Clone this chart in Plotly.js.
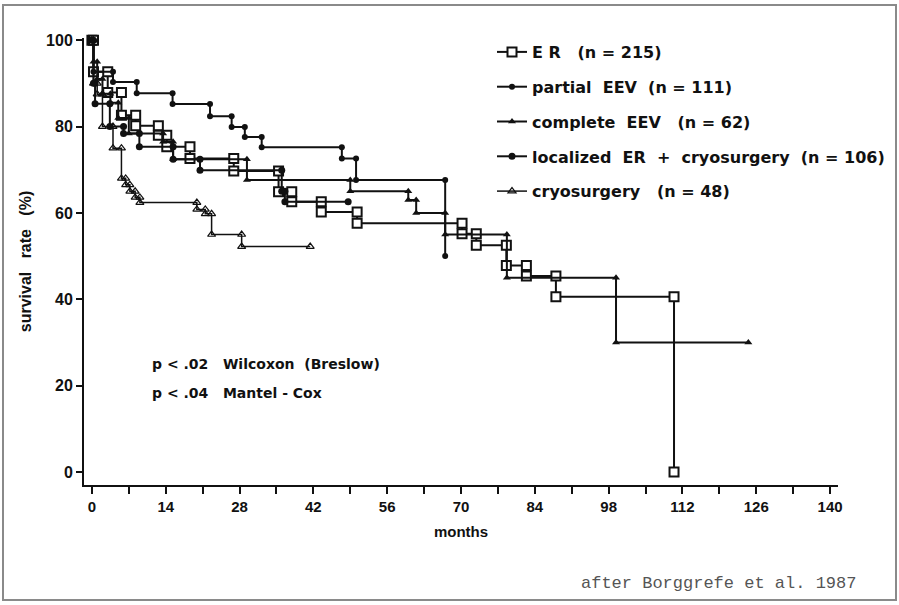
<!DOCTYPE html>
<html>
<head>
<meta charset="utf-8">
<script src="https://cdn.plot.ly/plotly-3.0.1.min.js"></script>
<style>html,body{margin:0;padding:0;background:#fff;}#chart{width:899px;height:605px;}</style>
</head>
<body>
<div id="chart"></div>
<script>
// Kaplan-Meier event times (months) and survival (%) after each event
const erT = [0, 0.3, 3.0, 5.6, 8.3, 12.6, 14.2, 18.6, 26.9, 35.4, 37.9, 43.5, 50.3, 70.2, 72.9, 78.6, 82.4, 88.0, 110.4];
const erS = [100, 92.7, 87.9, 82.6, 80.2, 78.0, 75.3, 72.6, 69.7, 64.9, 62.6, 60.2, 57.6, 55.2, 52.5, 47.8, 45.4, 40.6, 0];

const peT = [0, 0.3, 4.0, 8.5, 15.3, 22.4, 26.5, 29.0, 32.2, 47.4, 50.1, 67.0];
const peS = [100, 92.7, 90.3, 87.7, 85.2, 82.4, 79.9, 77.6, 75.2, 72.6, 67.6, 50.0];

const ceT = [0, 0.3, 1.0, 2.0, 3.5, 5.0, 7.0, 13.5, 15.4, 29.4, 49.0, 60.0, 61.5, 67.0, 78.7, 99.4, 124.5];
const ceS = [100, 95.0, 91.0, 87.6, 85.5, 82.0, 78.4, 76.5, 72.4, 67.6, 65.0, 63.0, 60.0, 55.0, 45.0, 30.0, 30.0];

const loT = [0, 0.3, 0.6, 3.4, 6.0, 9.0, 15.4, 20.5, 36.0, 36.6, 48.6];
const loS = [100, 90.0, 85.3, 80.0, 78.4, 75.3, 72.4, 69.9, 65.0, 62.6, 62.6];

const crT = [0, 0.3, 1.0, 2.0, 4.0, 5.6, 6.4, 7.2, 8.2, 9.1, 19.9, 21.5, 22.7, 28.4, 41.4];
const crS = [100, 90.0, 87.5, 80.0, 75.0, 68.0, 66.5, 65.0, 63.6, 62.4, 60.8, 59.8, 55.0, 52.2, 52.2];

const seriesNames = [
  "E R\u00A0\u00A0 (n = 215)",
  "partial\u00A0 EEV\u00A0 (n = 111)",
  "complete\u00A0 EEV\u00A0\u00A0 (n = 62)",
  "localized\u00A0 ER\u00A0 +\u00A0 cryosurgery\u00A0 (n = 106)",
  "cryosurgery\u00A0\u00A0 (n = 48)"
];

// build step path: markers at both ends of each drop
function steps(T, S) {
  const x = [T[0]], y = [S[0]];
  for (let i = 1; i < T.length; i++) {
    x.push(T[i]); y.push(S[i - 1]);
    if (S[i] !== S[i - 1]) { x.push(T[i]); y.push(S[i]); }
  }
  return {x, y};
}

const ink = "#111";
const styles = [
  {marker: {symbol: "square", size: 9, color: "#fff", line: {color: ink, width: 2}}, line: {color: ink, width: 2}},
  {marker: {symbol: "circle", size: 6, color: ink}, line: {color: ink, width: 2}},
  {marker: {symbol: "triangle-up", size: 7, color: ink}, line: {color: ink, width: 2}},
  {marker: {symbol: "circle", size: 7, color: ink}, line: {color: ink, width: 2}},
  {marker: {symbol: "triangle-up-open", size: 7, color: ink, line: {color: ink, width: 1.2}}, line: {color: ink, width: 1.5}}
];
const data = [[erT, erS], [peT, peS], [ceT, ceS], [loT, loS], [crT, crS]];

const traces = data.map((d, i) => {
  const p = steps(d[0], d[1]);
  return {
    x: p.x, y: p.y, type: "scatter", mode: "lines+markers",
    name: seriesNames[i], legendgroup: "g" + i,
    marker: styles[i].marker, line: styles[i].line,
    cliponaxis: false
  };
});

const font = {family: "Liberation Sans, Arial, sans-serif", color: ink};
const wide = "DejaVu Sans, Verdana, sans-serif";
const px = (v) => (v - 84) / 754;
const py = (v) => (485 - v) / 447;

const layout = {
  width: 899, height: 605,
  margin: {l: 84, r: 61, t: 38, b: 120, autoexpand: false},
  paper_bgcolor: "#fff", plot_bgcolor: "#fff",
  font: font,
  showlegend: true,
  legend: {
    x: px(492), y: py(35), xanchor: "left", yanchor: "top",
    font: {family: wide, size: 16, color: ink, weight: "bold"},
    bgcolor: "rgba(0,0,0,0)", tracegroupgap: 11, traceorder: "grouped",
    itemwidth: 30
  },
  xaxis: {
    range: [-1.5, 141.5], tickmode: "linear", tick0: 0, dtick: 14,
    ticks: "outside", ticklen: 7, tickwidth: 2, tickcolor: ink,
    minor: {tickmode: "linear", tick0: 0, dtick: 7, ticks: "outside", ticklen: 7, tickwidth: 2, tickcolor: ink},
    showline: true, linewidth: 2, linecolor: ink, showgrid: false, zeroline: false,
    tickfont: {family: font.family, size: 15, color: ink, weight: "bold"},
    title: {text: "months", font: {family: font.family, size: 15, color: ink, weight: "bold"}, standoff: 12}
  },
  yaxis: {
    range: [-3, 100.5], tickmode: "linear", tick0: 0, dtick: 20,
    ticks: "outside", ticklen: 6, tickwidth: 2, tickcolor: ink,
    showline: true, linewidth: 2, linecolor: ink, showgrid: false, zeroline: false,
    tickfont: {family: font.family, size: 16, color: ink, weight: "bold"},
    title: {text: "survival\u00A0\u00A0 rate\u00A0\u00A0 (%)", font: {family: font.family, size: 16, color: ink, weight: "bold"}, standoff: 10}
  },
  shapes: [{
    type: "rect", xref: "paper", yref: "paper",
    x0: px(3), x1: px(896), y0: py(600), y1: py(5),
    line: {color: "#8a8a8a", width: 2}
  }],
  annotations: [
    {xref: "paper", yref: "paper", x: px(150), y: py(364), xanchor: "left", yanchor: "middle", showarrow: false,
     text: "p < .02\u00A0\u00A0 Wilcoxon\u00A0 (Breslow)", font: {family: wide, size: 14, color: ink, weight: "bold"}},
    {xref: "paper", yref: "paper", x: px(150), y: py(393), xanchor: "left", yanchor: "middle", showarrow: false,
     text: "p < .04\u00A0\u00A0 Mantel - Cox", font: {family: wide, size: 14, color: ink, weight: "bold"}},
    {xref: "paper", yref: "paper", x: px(858), y: py(583), xanchor: "right", yanchor: "middle", showarrow: false,
     text: "after Borggrefe et al. 1987", font: {family: "Liberation Mono, DejaVu Sans Mono, monospace", size: 17, color: "#555"}}
  ],
  hovermode: false
};

Plotly.newPlot("chart", traces, layout, {displayModeBar: false, staticPlot: true});
</script>
</body>
</html>
